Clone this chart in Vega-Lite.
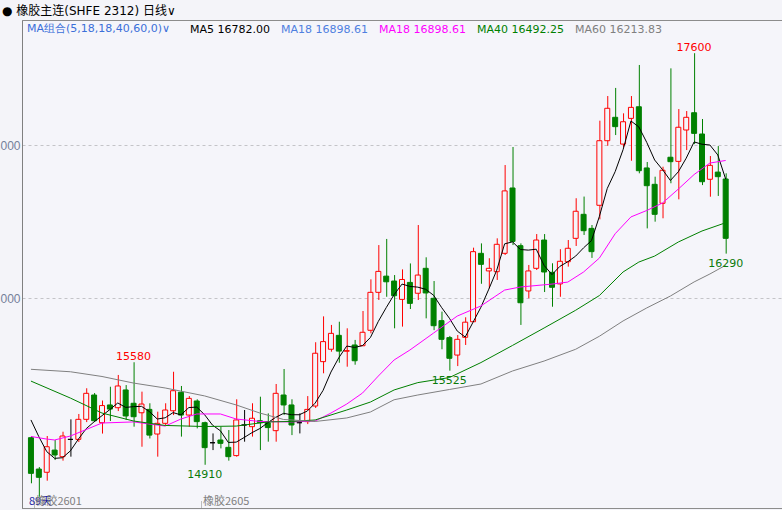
{
"$schema": "https://vega.github.io/schema/vega-lite/v6.json",
"width": 760, "height": 488,
"autosize": {"type": "none"},
"padding": {"left": 22, "top": 20, "right": 0, "bottom": 2},
"background": "#f4f4f9",
"config": {"view": {"stroke": "#8c8c8c", "fill": "#f5f5fa"}, "font": "DejaVu Sans"},
"title": {"text": "● 橡胶主连(SHFE 2312)  日线∨", "anchor": "start", "frame": "group", "dx": -20, "offset": 2, "font": "DejaVu Sans, Noto Sans CJK SC", "fontSize": 12, "fontWeight": "normal", "color": "#000000"},
"datasets": {
"k": [
{"i":0,"open":15087,"high":15095,"low":14789,"close":14854},
{"i":1,"open":14882,"high":14895,"low":14701,"close":14828},
{"i":2,"open":14861,"high":15098,"low":14806,"close":15028},
{"i":3,"open":15006,"high":15072,"low":14941,"close":14974},
{"i":4,"open":14963,"high":15126,"low":14937,"close":15098},
{"i":5,"open":15076,"high":15207,"low":14963,"close":15076},
{"i":6,"open":15076,"high":15242,"low":15059,"close":15207},
{"i":7,"open":15207,"high":15410,"low":15189,"close":15377},
{"i":8,"open":15366,"high":15379,"low":15189,"close":15198},
{"i":9,"open":15185,"high":15330,"low":15114,"close":15297},
{"i":10,"open":15301,"high":15420,"low":15196,"close":15274},
{"i":11,"open":15283,"high":15497,"low":15261,"close":15425},
{"i":12,"open":15399,"high":15431,"low":15203,"close":15229},
{"i":13,"open":15312,"high":15580,"low":15159,"close":15224},
{"i":14,"open":15250,"high":15388,"low":15028,"close":15307},
{"i":15,"open":15272,"high":15312,"low":15082,"close":15104},
{"i":16,"open":15111,"high":15257,"low":14963,"close":15181},
{"i":17,"open":15181,"high":15312,"low":15170,"close":15268},
{"i":18,"open":15263,"high":15518,"low":15235,"close":15394},
{"i":19,"open":15384,"high":15425,"low":15094,"close":15235},
{"i":20,"open":15235,"high":15359,"low":15159,"close":15344},
{"i":21,"open":15327,"high":15338,"low":15148,"close":15192},
{"i":22,"open":15185,"high":15192,"low":14910,"close":15022},
{"i":23,"open":15054,"high":15115,"low":15006,"close":15054},
{"i":24,"open":15072,"high":15159,"low":15017,"close":15050},
{"i":25,"open":15024,"high":15137,"low":14937,"close":14963},
{"i":26,"open":14970,"high":15338,"low":14963,"close":15203},
{"i":27,"open":15170,"high":15268,"low":15061,"close":15170},
{"i":28,"open":15159,"high":15312,"low":15094,"close":15214},
{"i":29,"open":15198,"high":15355,"low":15006,"close":15185},
{"i":30,"open":15185,"high":15246,"low":15061,"close":15153},
{"i":31,"open":15133,"high":15438,"low":15061,"close":15377},
{"i":32,"open":15366,"high":15536,"low":15235,"close":15301},
{"i":33,"open":15301,"high":15338,"low":15104,"close":15170},
{"i":34,"open":15185,"high":15246,"low":15115,"close":15185},
{"i":35,"open":15192,"high":15359,"low":15176,"close":15272},
{"i":36,"open":15294,"high":15711,"low":15281,"close":15639},
{"i":37,"open":15584,"high":15880,"low":15508,"close":15715},
{"i":38,"open":15665,"high":15824,"low":15649,"close":15769},
{"i":39,"open":15756,"high":15845,"low":15577,"close":15653},
{"i":40,"open":15652,"high":15802,"low":15551,"close":15656},
{"i":41,"open":15693,"high":15726,"low":15564,"close":15590},
{"i":42,"open":15688,"high":15915,"low":15686,"close":15776},
{"i":43,"open":15789,"high":16122,"low":15769,"close":16037},
{"i":44,"open":16037,"high":16346,"low":15987,"close":16174},
{"i":45,"open":16143,"high":16386,"low":16008,"close":16106},
{"i":46,"open":16111,"high":16150,"low":15802,"close":16015},
{"i":47,"open":15991,"high":16187,"low":15813,"close":16121},
{"i":48,"open":16102,"high":16226,"low":15928,"close":15965},
{"i":49,"open":16031,"high":16477,"low":15987,"close":16150},
{"i":50,"open":16194,"high":16266,"low":15867,"close":16033},
{"i":51,"open":15998,"high":16111,"low":15790,"close":15819},
{"i":52,"open":15852,"high":15911,"low":15665,"close":15730},
{"i":53,"open":15741,"high":15752,"low":15525,"close":15606},
{"i":54,"open":15627,"high":15758,"low":15555,"close":15730},
{"i":55,"open":15743,"high":15874,"low":15693,"close":15842},
{"i":56,"open":15845,"high":16329,"low":15843,"close":16303},
{"i":57,"open":16292,"high":16357,"low":16093,"close":16220},
{"i":58,"open":16177,"high":16260,"low":16063,"close":16194},
{"i":59,"open":16172,"high":16390,"low":16118,"close":16351},
{"i":60,"open":16292,"high":16869,"low":16281,"close":16700},
{"i":61,"open":16719,"high":16987,"low":16346,"close":16370},
{"i":62,"open":16342,"high":16357,"low":15824,"close":15969},
{"i":63,"open":16046,"high":16216,"low":15998,"close":16177},
{"i":64,"open":16194,"high":16418,"low":16183,"close":16379},
{"i":65,"open":16379,"high":16418,"low":16039,"close":16170},
{"i":66,"open":16168,"high":16227,"low":15943,"close":16070},
{"i":67,"open":16092,"high":16319,"low":16008,"close":16240},
{"i":68,"open":16237,"high":16379,"low":16205,"close":16325},
{"i":69,"open":16390,"high":16652,"low":16340,"close":16567},
{"i":70,"open":16547,"high":16663,"low":16412,"close":16440},
{"i":71,"open":16455,"high":16477,"low":16262,"close":16303},
{"i":72,"open":16606,"high":17159,"low":16514,"close":17028},
{"i":73,"open":17028,"high":17320,"low":16995,"close":17240},
{"i":74,"open":17181,"high":17373,"low":17065,"close":17120},
{"i":75,"open":17006,"high":17207,"low":16985,"close":17152},
{"i":76,"open":17174,"high":17320,"low":16897,"close":17246},
{"i":77,"open":17250,"high":17523,"low":16815,"close":16832},
{"i":78,"open":16850,"high":16889,"low":16455,"close":16734},
{"i":79,"open":16743,"high":16793,"low":16499,"close":16547},
{"i":80,"open":16619,"high":16858,"low":16521,"close":16835},
{"i":81,"open":16920,"high":17501,"low":16750,"close":16891},
{"i":82,"open":16893,"high":17235,"low":16645,"close":17116},
{"i":83,"open":17098,"high":17222,"low":16967,"close":17181},
{"i":84,"open":17211,"high":17600,"low":17006,"close":17076},
{"i":85,"open":17072,"high":17170,"low":16738,"close":16760},
{"i":86,"open":16776,"high":16928,"low":16662,"close":16867},
{"i":87,"open":16823,"high":16993,"low":16667,"close":16793},
{"i":88,"open":16778,"high":16815,"low":16290,"close":16390}
],
"ma": [
{"i":0,"s":"MA5","v":15203},{"i":1,"s":"MA5","v":15094},{"i":2,"s":"MA5","v":14996},{"i":3,"s":"MA5","v":14952},{"i":4,"s":"MA5","v":14956},
{"i":5,"s":"MA5","v":15001},{"i":6,"s":"MA5","v":15077},{"i":7,"s":"MA5","v":15146},{"i":8,"s":"MA5","v":15191},{"i":9,"s":"MA5","v":15231},
{"i":10,"s":"MA5","v":15271},{"i":11,"s":"MA5","v":15314},{"i":12,"s":"MA5","v":15285},{"i":13,"s":"MA5","v":15290},{"i":14,"s":"MA5","v":15292},
{"i":15,"s":"MA5","v":15258},{"i":16,"s":"MA5","v":15209},{"i":17,"s":"MA5","v":15217},{"i":18,"s":"MA5","v":15251},{"i":19,"s":"MA5","v":15236},
{"i":20,"s":"MA5","v":15284},{"i":21,"s":"MA5","v":15287},{"i":22,"s":"MA5","v":15237},{"i":23,"s":"MA5","v":15169},{"i":24,"s":"MA5","v":15132},
{"i":25,"s":"MA5","v":15056},{"i":26,"s":"MA5","v":15058},{"i":27,"s":"MA5","v":15088},{"i":28,"s":"MA5","v":15120},{"i":29,"s":"MA5","v":15147},
{"i":30,"s":"MA5","v":15185},{"i":31,"s":"MA5","v":15220},{"i":32,"s":"MA5","v":15246},{"i":33,"s":"MA5","v":15237},{"i":34,"s":"MA5","v":15237},
{"i":35,"s":"MA5","v":15261},{"i":36,"s":"MA5","v":15313},{"i":37,"s":"MA5","v":15396},{"i":38,"s":"MA5","v":15516},{"i":39,"s":"MA5","v":15610},
{"i":40,"s":"MA5","v":15686},{"i":41,"s":"MA5","v":15677},{"i":42,"s":"MA5","v":15689},{"i":43,"s":"MA5","v":15742},{"i":44,"s":"MA5","v":15847},
{"i":45,"s":"MA5","v":15937},{"i":46,"s":"MA5","v":16022},{"i":47,"s":"MA5","v":16091},{"i":48,"s":"MA5","v":16076},{"i":49,"s":"MA5","v":16071},
{"i":50,"s":"MA5","v":16057},{"i":51,"s":"MA5","v":16018},{"i":52,"s":"MA5","v":15939},{"i":53,"s":"MA5","v":15868},{"i":54,"s":"MA5","v":15784},
{"i":55,"s":"MA5","v":15745},{"i":56,"s":"MA5","v":15842},{"i":57,"s":"MA5","v":15940},{"i":58,"s":"MA5","v":16058},{"i":59,"s":"MA5","v":16182},
{"i":60,"s":"MA5","v":16354},{"i":61,"s":"MA5","v":16367},{"i":62,"s":"MA5","v":16317},{"i":63,"s":"MA5","v":16313},{"i":64,"s":"MA5","v":16319},
{"i":65,"s":"MA5","v":16213},{"i":66,"s":"MA5","v":16153},{"i":67,"s":"MA5","v":16207},{"i":68,"s":"MA5","v":16237},{"i":69,"s":"MA5","v":16274},
{"i":70,"s":"MA5","v":16328},{"i":71,"s":"MA5","v":16375},{"i":72,"s":"MA5","v":16533},{"i":73,"s":"MA5","v":16716},{"i":74,"s":"MA5","v":16826},
{"i":75,"s":"MA5","v":16969},{"i":76,"s":"MA5","v":17157},{"i":77,"s":"MA5","v":17118},{"i":78,"s":"MA5","v":17017},{"i":79,"s":"MA5","v":16902},
{"i":80,"s":"MA5","v":16839},{"i":81,"s":"MA5","v":16768},{"i":82,"s":"MA5","v":16825},{"i":83,"s":"MA5","v":16914},{"i":84,"s":"MA5","v":17020},
{"i":85,"s":"MA5","v":17005},{"i":86,"s":"MA5","v":17000},{"i":87,"s":"MA5","v":16935},{"i":88,"s":"MA5","v":16777},
{"i":0,"s":"MA18","v":15095},{"i":2,"s":"MA18","v":15078},{"i":3,"s":"MA18","v":15072},{"i":5,"s":"MA18","v":15098},{"i":9,"s":"MA18","v":15183},
{"i":13,"s":"MA18","v":15190},{"i":17,"s":"MA18","v":15163},{"i":19,"s":"MA18","v":15209},{"i":21,"s":"MA18","v":15242},{"i":24,"s":"MA18","v":15242},
{"i":26,"s":"MA18","v":15209},{"i":29,"s":"MA18","v":15193},{"i":33,"s":"MA18","v":15190},{"i":36,"s":"MA18","v":15196},{"i":38,"s":"MA18","v":15248},
{"i":40,"s":"MA18","v":15307},{"i":42,"s":"MA18","v":15379},{"i":44,"s":"MA18","v":15490},{"i":46,"s":"MA18","v":15595},{"i":48,"s":"MA18","v":15660},
{"i":51,"s":"MA18","v":15771},{"i":54,"s":"MA18","v":15882},{"i":57,"s":"MA18","v":15948},{"i":60,"s":"MA18","v":16052},{"i":62,"s":"MA18","v":16072},
{"i":66,"s":"MA18","v":16091},{"i":68,"s":"MA18","v":16104},{"i":70,"s":"MA18","v":16170},{"i":72,"s":"MA18","v":16261},{"i":74,"s":"MA18","v":16420},
{"i":76,"s":"MA18","v":16530},{"i":78,"s":"MA18","v":16572},{"i":80,"s":"MA18","v":16621},{"i":82,"s":"MA18","v":16712},{"i":84,"s":"MA18","v":16807},
{"i":86,"s":"MA18","v":16882},{"i":88,"s":"MA18","v":16899},
{"i":0,"s":"MA40","v":15457},{"i":5,"s":"MA40","v":15346},{"i":9,"s":"MA40","v":15248},{"i":13,"s":"MA40","v":15196},{"i":17,"s":"MA40","v":15167},
{"i":22,"s":"MA40","v":15160},{"i":26,"s":"MA40","v":15163},{"i":30,"s":"MA40","v":15190},{"i":33,"s":"MA40","v":15193},{"i":36,"s":"MA40","v":15203},
{"i":40,"s":"MA40","v":15268},{"i":43,"s":"MA40","v":15320},{"i":46,"s":"MA40","v":15399},{"i":49,"s":"MA40","v":15447},{"i":53,"s":"MA40","v":15480},
{"i":57,"s":"MA40","v":15578},{"i":61,"s":"MA40","v":15690},{"i":65,"s":"MA40","v":15804},{"i":69,"s":"MA40","v":15920},{"i":72,"s":"MA40","v":16016},
{"i":75,"s":"MA40","v":16170},{"i":77,"s":"MA40","v":16235},{"i":79,"s":"MA40","v":16274},{"i":82,"s":"MA40","v":16366},{"i":85,"s":"MA40","v":16438},
{"i":88,"s":"MA40","v":16492},
{"i":0,"s":"MA60","v":15534},{"i":5,"s":"MA60","v":15518},{"i":9,"s":"MA60","v":15487},{"i":13,"s":"MA60","v":15444},{"i":17,"s":"MA60","v":15412},
{"i":22,"s":"MA60","v":15360},{"i":26,"s":"MA60","v":15301},{"i":29,"s":"MA60","v":15248},{"i":32,"s":"MA60","v":15206},{"i":36,"s":"MA60","v":15193},
{"i":40,"s":"MA60","v":15216},{"i":43,"s":"MA60","v":15255},{"i":46,"s":"MA60","v":15335},{"i":49,"s":"MA60","v":15366},{"i":53,"s":"MA60","v":15402},
{"i":57,"s":"MA60","v":15438},{"i":61,"s":"MA60","v":15523},{"i":65,"s":"MA60","v":15588},{"i":69,"s":"MA60","v":15665},{"i":72,"s":"MA60","v":15750},
{"i":75,"s":"MA60","v":15850},{"i":78,"s":"MA60","v":15935},{"i":81,"s":"MA60","v":16013},{"i":84,"s":"MA60","v":16105},{"i":86,"s":"MA60","v":16157},
{"i":88,"s":"MA60","v":16214}
],
"lab": [
{"i":13,"p":15580,"t":"15580","k":"hi"},
{"i":84,"p":17600,"t":"17600","k":"hi"},
{"i":22,"p":14910,"t":"14910","k":"lo"},
{"i":53,"p":15525,"t":"15525","k":"lo"},
{"i":88,"p":16290,"t":"16290","k":"lo"}
]
},
"layer": [
{
"data": {"name": "k"},
"mark": {"type": "rule", "strokeWidth": 1, "xOffset": 0.5},
"encoding": {
"x": {"field": "i", "type": "quantitative", "scale": {"domain": [-0.5, 94.5], "nice": false, "zero": false},
 "axis": {"orient": "bottom", "title": null, "values": [0.375, 21.6, -0.45], "labelExpr": "datum.value < 0 ? '89天' : (datum.value < 5 ? '橡胶2601' : '橡胶2605')",
  "labelAlign": "left", "labelBaseline": "alphabetic", "labelOffset": 1, "labelPadding": 4, "labelFont": "Noto Sans CJK SC", "labelFontSize": 11,
  "labelColor": {"condition": {"test": "datum.value < 0", "value": "#1c1ca0"}, "value": "#808080"},
  "tickSize": -8, "tickDash": [1, 1], "tickColor": "#808080", "tickOpacity": {"condition": {"test": "datum.value < 0", "value": 0}, "value": 1},
  "domainColor": "#8c8c8c", "grid": false, "labelOverlap": false, "labelFlush": false}},
"y": {"field": "low", "type": "quantitative", "scale": {"domain": [14627.5, 17817], "nice": false, "zero": false},
 "axis": {"orient": "left", "title": null, "values": [16000, 17000], "grid": true, "gridDash": [3, 3], "gridColor": "#c4c4c8", "ticks": false,
  "domainColor": "#808080", "labelFont": "Liberation Sans", "labelFontSize": 12, "labelColor": "#74809a", "labelPadding": 2, "labelBaseline": "middle"}},
"y2": {"field": "high"},
"color": {"condition": [{"test": "datum.open == datum.close", "value": "#000000"}, {"test": "datum.close > datum.open", "value": "#ff0000"}], "value": "#008000"}
}
},
{
"data": {"name": "k"},
"mark": {"type": "bar", "size": 5, "strokeWidth": 1},
"encoding": {
"x": {"field": "i", "type": "quantitative"},
"y": {"field": "open", "type": "quantitative"},
"y2": {"field": "close"},
"stroke": {"condition": [{"test": "datum.open == datum.close", "value": "#000000"}, {"test": "datum.close > datum.open", "value": "#ff0000"}], "value": "#008000"},
"fill": {"condition": {"test": "datum.close > datum.open", "value": "#f5f5fa"}, "value": "#008000"}
}
},
{
"data": {"name": "ma"},
"mark": {"type": "line", "strokeWidth": 1},
"encoding": {
"x": {"field": "i", "type": "quantitative"},
"y": {"field": "v", "type": "quantitative"},
"color": {"field": "s", "type": "nominal",
 "scale": {"domain": ["MA5", "MA18b", "MA18", "MA40", "MA60"], "range": ["#000000", "#4f7fe0", "#ff00ff", "#008000", "#808080"]},
 "legend": {"orient": "none", "legendX": 5, "legendY": 4, "direction": "horizontal", "gridAlign": "none",
  "title": "MA组合(5,18,18,40,60,0)∨", "titleOrient": "left", "titleColor": "#3b6fd9", "titleFontSize": 11, "titleFontWeight": "normal", "titleFont": "DejaVu Sans", "titlePadding": 8,
  "labelFontSize": 11, "labelFont": "DejaVu Sans",
  "labelExpr": "datum.value == 'MA5' ? 'MA5 16782.00' : datum.value == 'MA40' ? 'MA40 16492.25' : datum.value == 'MA60' ? 'MA60 16213.83' : 'MA18 16898.61'",
  "symbolType": "circle", "symbolSize": 0, "symbolOpacity": 0, "symbolStrokeWidth": 0, "labelOffset": 0, "columnPadding": 0, "padding": 0,
  "encode": {"labels": {"update": {"fill": {"signal": "scale('color', datum.value)"}}}}}}
}
},
{
"data": {"name": "lab"},
"transform": [{"filter": "datum.k == 'hi'"}],
"mark": {"type": "text", "baseline": "alphabetic", "dy": -2, "fontSize": 11, "font": "DejaVu Sans", "color": "#ff0000"},
"encoding": {"x": {"field": "i", "type": "quantitative"}, "y": {"field": "p", "type": "quantitative"}, "text": {"field": "t"}}
},
{
"data": {"name": "lab"},
"transform": [{"filter": "datum.k == 'lo'"}],
"mark": {"type": "text", "baseline": "alphabetic", "dy": 13, "fontSize": 11, "font": "DejaVu Sans", "color": "#0a7a0a"},
"encoding": {"x": {"field": "i", "type": "quantitative"}, "y": {"field": "p", "type": "quantitative"}, "text": {"field": "t"}}
}
]
}
